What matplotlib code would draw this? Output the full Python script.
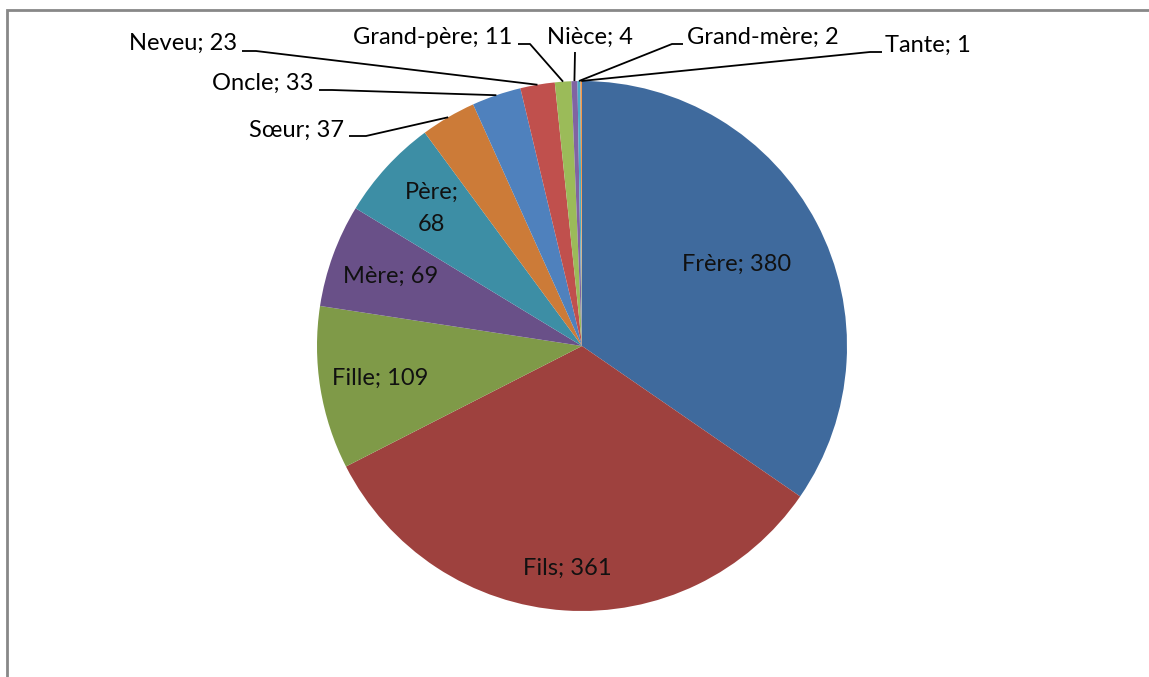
import numpy as np
import matplotlib
matplotlib.use("Agg")
import matplotlib.pyplot as plt
from matplotlib.patches import Rectangle

plt.rcParams["font.family"] = ["Lato", "DejaVu Sans"]

# family members cited, clockwise from 12 o'clock
labels = ["Frère", "Fils", "Fille", "Mère", "Père", "Sœur", "Oncle",
          "Neveu", "Grand-père", "Nièce", "Grand-mère", "Tante"]
counts = [380, 361, 109, 69, 68, 37, 33, 23, 11, 4, 2, 1]
colors = ["#3F6A9D", "#9E413E", "#7F9A48", "#695088", "#3D8EA5", "#CC7B38",
          "#4F81BD", "#C0504D", "#9BBB59", "#8064A2", "#4BACC6", "#F79646"]

W, H = 1149, 677
CX, CY, R = 582, H - 346, 265

# labels drawn inside their slice: fraction of radius
inside = {"Frère": 0.66, "Fils": 0.84, "Fille": 0.77, "Mère": 0.77, "Père": 0.77}
# labels drawn outside: (text x, text y, ha, leader start x, leader y, elbow x)
outside = {
    "Sœur":       (344, 130, "right", 349, 136, 366),
    "Oncle":      (314, 83, "right", 319, 90, 332),
    "Neveu":      (237, 43, "right", 242, 51, 256),
    "Grand-père": (512, 37, "right", 518, 44, 530),
    "Nièce":      (547, 37, "left", 575, 52, 575),
    "Grand-mère": (687, 37, "left", 683, 44, 672),
    "Tante":      (885, 45, "left", 882, 52, 870),
}

fig = plt.figure(figsize=(W / 100, H / 100), dpi=100)
ax = fig.add_axes([0, 0, 1, 1])
ax.set_xlim(0, W)
ax.set_ylim(0, H)
ax.set_aspect("equal")
ax.axis("off")

# chart area frame (runs off the right and bottom edges)
ax.add_patch(Rectangle((7, -20), W + 20, H - 10 + 20, fill=False,
                       edgecolor="#888888", lw=2))

wedges, _ = ax.pie(counts, colors=colors, startangle=90, counterclock=False,
                   center=(CX, CY), radius=R, wedgeprops=dict(linewidth=0))
ax.set_xlim(0, W)
ax.set_ylim(0, H)

fs = 17
for w, name, n in zip(wedges, labels, counts):
    mid = np.deg2rad((w.theta1 + w.theta2) / 2)
    txt = f"{name}; {n}"
    if name in inside:
        f = inside[name]
        x, y = CX + f * R * np.cos(mid), CY + f * R * np.sin(mid)
        if name == "Père":
            txt = f"{name};\n{n}"
        ax.text(x, y, txt, ha="center", va="center", fontsize=fs,
                color="#111111", linespacing=1.65)
    else:
        tx, ty, ha, lx, ly, ex = outside[name]
        px, py = CX + R * np.cos(mid), CY + R * np.sin(mid)
        ax.text(tx, H - ty, txt, ha=ha, va="center", fontsize=fs, color="black")
        ax.plot([lx, ex, px], [H - ly, H - ly, py], color="black", lw=1.3,
                solid_capstyle="butt")

fig.savefig("out.png", dpi=100)
